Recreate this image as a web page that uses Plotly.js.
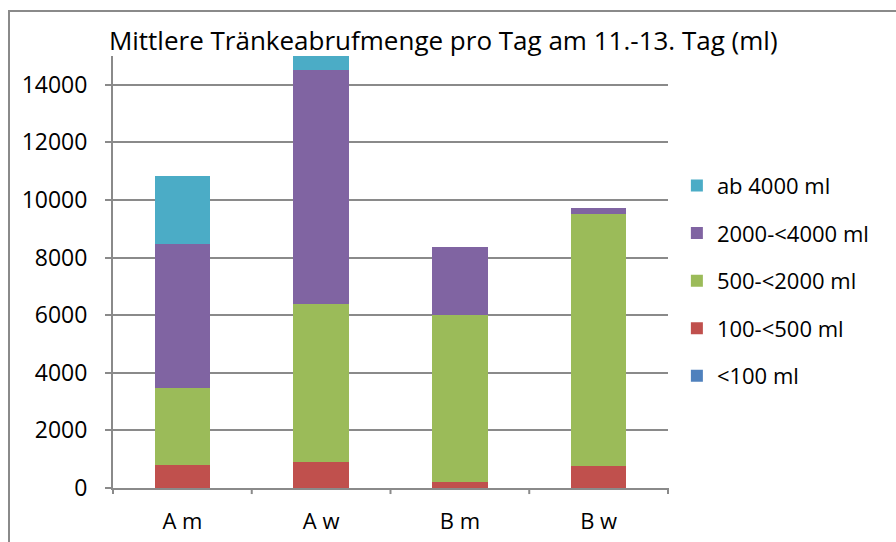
<!DOCTYPE html>
<html>
<head>
<meta charset="utf-8">
<script src="https://cdn.plot.ly/plotly-3.0.1.min.js"></script>
<style>
  html, body { margin: 0; padding: 0; background: #fff; }
  #wrap { position: relative; width: 896px; height: 542px; }
  #chart { position: absolute; left: 0; top: 0; width: 896px; height: 542px; }
  #frame { position: absolute; left: 8px; top: 10px; width: 900px; height: 540px;
           border-left: 2px solid #8a8a8a; border-top: 2px solid #8a8a8a; pointer-events: none; }
</style>
</head>
<body>
<div id="wrap">
  <div id="chart"></div>
  <div id="frame"></div>
</div>
<script>
const categories = ["A m", "A w", "B m", "B w"];
const seriesNames = ["<100 ml", "100-<500 ml", "500-<2000 ml", "2000-<4000 ml", "ab 4000 ml"];
const lt100 = [8, 6, 4, 5];
const v100to500 = [780, 913, 220, 774];
const v500to2000 = [2700, 5468, 5770, 8730];
const v2000to4000 = [4984, 8113, 2357, 219];
const ab4000 = [2368, 520, 0, 0];
const yTicks = [0, 2000, 4000, 6000, 8000, 10000, 12000, 14000];

const colors = ["#4F81BD", "#C0504D", "#9BBB59", "#8064A2", "#4BACC6"];
const values = [lt100, v100to500, v500to2000, v2000to4000, ab4000];

const font = "Open Sans, Lato, sans-serif";

const traces = values.map((v, i) => ({
  type: "bar",
  name: seriesNames[i],
  x: categories,
  y: v,
  legendgroup: "g" + i,
  legendrank: 100 - i,
  marker: { color: colors[i], line: { width: 0 } },
  hoverinfo: "x+y+name"
}));

const layout = {
  width: 896,
  height: 542,
  margin: { l: 113, r: 228, t: 56, b: 54 },
  paper_bgcolor: "#ffffff",
  plot_bgcolor: "#ffffff",
  barmode: "stack",
  bargap: 0.6,
  font: { family: font, color: "#000000", size: 22 },
  title: {
    text: "Mittlere Tränkeabrufmenge pro Tag am 11.-13. Tag (ml)",
    font: { family: font, size: 26, color: "#000000" },
    x: 0.595, xanchor: "center", xref: "paper",
    y: 0.925, yanchor: "middle"
  },
  xaxis: {
    type: "category",
    showline: true, linecolor: "#8a8a8a", linewidth: 2,
    showgrid: false,
    ticks: "",
    tickfont: { family: font, size: 22, color: "#000" },
    ticklabelstandoff: 13,
    fixedrange: true
  },
  yaxis: {
    range: [0, 15000],
    tickvals: yTicks,
    ticktext: yTicks.map(String),
    showline: true, linecolor: "#8a8a8a", linewidth: 2,
    showgrid: true, gridcolor: "#8a8a8a", gridwidth: 2,
    zeroline: false,
    ticks: "outside", ticklen: 6, tickcolor: "#8a8a8a", tickwidth: 2,
    tickfont: { family: font, size: 23, color: "#000" },
    ticklabelstandoff: 13,
    fixedrange: true
  },
  shapes: [0, 1, 2, 3, 4].map(k => ({
    type: "line", xref: "paper", yref: "paper",
    x0: k / 4, x1: k / 4, y0: 0, y1: -0.014,
    line: { color: "#8a8a8a", width: 2 }
  })),
  legend: {
    x: 1.016, xanchor: "left",
    y: 0.48, yanchor: "middle",
    traceorder: "grouped",
    tracegroupgap: 16,
    font: { family: font, size: 22, color: "#000" },
    itemwidth: 30,
    bgcolor: "rgba(0,0,0,0)"
  },
  showlegend: true
};

Plotly.newPlot("chart", traces, layout, { displayModeBar: false, staticPlot: true });
</script>
</body>
</html>
